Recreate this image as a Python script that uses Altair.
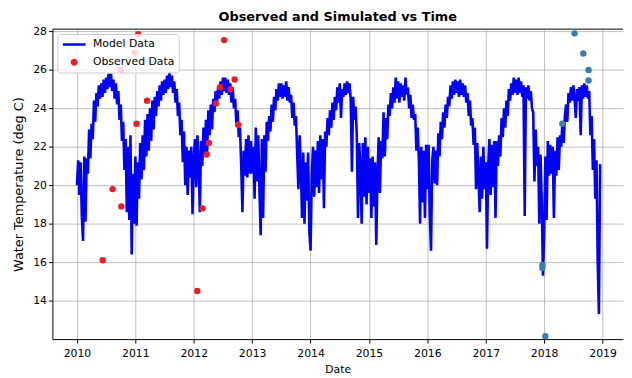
import altair as alt
import pandas as pd

# ---------------- data ----------------
# Simulated water temperature, 48 samples per year (regular ~7.6 day grid)
STEPS_PER_YEAR = 48
model_2010 = [20.0, 21.3, 19.5, 21.2, 18.4, 17.1, 21.5, 18.1, 21.4, 20.6, 22.9, 21.4,
              23.2, 22.4, 24.4, 23.3, 24.8, 24.1, 25.2, 24.5, 25.3, 24.6, 25.5, 24.8,
              25.6, 25.0, 25.8, 25.1, 25.8, 24.9, 25.5, 24.5, 25.3, 24.2, 24.9, 23.4,
              24.2, 22.3, 23.3, 20.8, 22.4, 18.6, 22.0, 18.2, 22.6, 16.4, 20.6, 18.0]
model_2011 = [21.5, 17.9, 21.2, 19.3, 22.2, 20.3, 22.6, 20.8, 23.4, 21.5, 23.7, 21.8,
              24.0, 22.3, 24.4, 22.9, 24.6, 23.6, 24.9, 24.1, 25.2, 24.4, 25.4, 24.7,
              25.5, 24.8, 25.7, 25.0, 25.9, 25.1, 25.7, 24.8, 25.4, 24.3, 25.0, 23.6,
              24.3, 22.6, 23.4, 21.2, 22.8, 20.0, 22.0, 19.5, 21.8, 20.4, 22.0, 18.5]
model_2012 = [21.3, 22.4, 19.9, 22.6, 21.2, 18.6, 22.3, 21.0, 23.0, 21.6, 23.4, 21.7,
              23.9, 22.6, 24.2, 22.9, 24.5, 23.8, 24.9, 24.2, 25.1, 24.5, 25.4, 24.7,
              25.6, 24.9, 25.6, 24.8, 25.5, 24.7, 25.3, 24.3, 25.1, 24.0, 24.5, 23.2,
              23.9, 22.5, 23.0, 21.0, 18.6, 21.8, 20.5, 22.4, 20.4, 22.6, 20.6, 22.3]
model_2013 = [20.6, 22.0, 19.3, 23.0, 20.2, 22.6, 19.7, 17.4, 22.4, 18.3, 22.6, 20.7,
              23.3, 22.3, 23.6, 22.8, 24.2, 23.3, 24.6, 23.9, 25.0, 24.4, 25.3, 24.6,
              25.3, 24.5, 25.2, 24.6, 25.4, 24.4, 25.1, 24.3, 24.7, 23.5, 24.3, 23.1,
              23.6, 21.6, 19.8, 22.6, 21.0, 18.3, 21.7, 18.0, 21.2, 19.2, 21.7, 17.6]
model_2014 = [16.6, 20.5, 22.0, 19.4, 21.8, 19.9, 22.3, 19.6, 22.6, 20.3, 22.4, 18.8,
              22.8, 22.0, 23.5, 22.6, 23.9, 23.0, 24.3, 23.4, 24.6, 23.9, 25.1, 24.3,
              25.3, 23.5, 25.0, 24.6, 25.3, 24.7, 25.4, 24.8, 25.3, 24.5, 20.7, 24.6,
              23.4, 24.1, 22.6, 18.3, 22.2, 20.8, 18.0, 22.2, 19.4, 22.5, 19.0, 22.0]
model_2015 = [19.6, 21.4, 18.3, 21.5, 18.9, 21.2, 16.9, 20.6, 22.5, 19.6, 22.3, 21.4,
              23.8, 21.5, 23.5, 22.4, 24.2, 23.6, 24.8, 24.0, 25.1, 24.3, 25.6, 24.5,
              25.4, 24.3, 25.3, 24.6, 25.2, 24.4, 25.6, 24.7, 25.1, 24.0, 24.7, 23.5,
              24.2, 23.4, 23.7, 21.8, 23.0, 21.4, 18.0, 22.0, 19.1, 21.8, 18.3, 22.1]
model_2016 = [19.8, 22.1, 18.4, 16.6, 21.3, 22.0, 20.1, 21.8, 20.0, 22.7, 21.5, 23.3,
              22.4, 23.8, 23.0, 24.2, 23.5, 24.6, 24.1, 25.2, 24.5, 25.4, 24.7, 25.5,
              24.8, 25.4, 24.6, 25.5, 24.7, 25.3, 24.6, 25.2, 24.3, 24.8, 23.6, 24.4,
              23.1, 23.5, 22.1, 23.0, 19.8, 22.2, 20.4, 18.6, 21.5, 19.3, 22.0, 19.8]
model_2017 = [21.2, 16.7, 21.0, 22.4, 19.5, 22.1, 19.9, 22.3, 18.3, 22.3, 21.0, 22.6,
              21.5, 23.5, 22.5, 24.0, 23.0, 24.4, 23.6, 25.0, 24.4, 25.3, 24.7, 25.6,
              24.8, 25.5, 24.7, 25.6, 24.8, 25.4, 24.6, 25.2, 18.4, 25.1, 24.5, 25.2,
              24.4, 24.9, 24.0, 23.8, 20.2, 22.9, 21.0, 22.0, 18.0, 21.6, 19.2, 15.3]
model_2018 = [17.5, 21.5, 18.2, 22.3, 20.5, 22.1, 20.6, 22.0, 18.3, 21.8, 20.5, 22.5,
              20.8, 22.6, 22.0, 23.3, 22.2, 23.6, 24.2, 23.3, 24.8, 24.3, 25.1, 24.4,
              25.2, 24.5, 23.5, 25.0, 24.4, 25.1, 22.6, 25.2, 24.5, 25.3, 24.6, 25.2,
              24.5, 24.9, 22.6, 23.6, 20.8, 22.4, 19.3, 21.3, 16.0, 13.3, 21.1]
model_years = [2010, 2011, 2012, 2013, 2014, 2015, 2016, 2017, 2018]
model_values = [model_2010, model_2011, model_2012, model_2013, model_2014,
                model_2015, model_2016, model_2017, model_2018]

# Observed data (red, in legend)
obs_year = [2010.44, 2010.61, 2010.76, 2010.75, 2010.99, 2011.05, 2011.02, 2011.20,
            2012.06, 2012.15, 2012.22, 2012.26, 2012.38, 2012.45, 2012.52, 2012.63,
            2012.70, 2012.76]
obs_temp = [16.1, 19.8, 18.9, 26.0, 26.9, 27.85, 23.2, 24.4,
            14.5, 18.8, 21.6, 22.2, 24.25, 25.1, 27.55, 25.0,
            25.5, 23.15]
# Extra observations (blue, not in legend)
obs2_year = [2018.52, 2018.67, 2018.76, 2018.76, 2018.31, 2017.97, 2017.97, 2018.02]
obs2_temp = [27.9, 26.85, 26.0, 25.45, 23.2, 15.85, 15.7, 12.15]

series_names = ["Model Data", "Observed Data"]
x_ticks = list(range(2010, 2020))
y_ticks = [14, 16, 18, 20, 22, 24, 26, 28]

# ---------------- tables ----------------
rows = []
for yr, vals in zip(model_years, model_values):
    for i, v in enumerate(vals):
        rows.append({"year": yr + i / STEPS_PER_YEAR, "temp": v, "series": series_names[0]})
model_df = pd.DataFrame(rows)
obs_df = pd.DataFrame({"year": obs_year, "temp": obs_temp, "series": series_names[1]})
obs2_df = pd.DataFrame({"year": obs2_year, "temp": obs2_temp})

W, H = 578, 314

x_scale = alt.Scale(domain=[2009.58, 2019.35], nice=False, zero=False)
y_scale = alt.Scale(domain=[12.0, 28.12], nice=False, zero=False)

x_axis = alt.Axis(title="Date", values=x_ticks, format="d", labelFlush=False,
                  labelPadding=5, titlePadding=5, titleFontSize=11, tickSize=4)
y_axis = alt.Axis(title="Water Temperature (deg C)", values=y_ticks,
                  labelPadding=2, titlePadding=7, titleFontSize=13, tickSize=4)

# legend symbols: a horizontal stroke for the model, a small filled dot for observations
# (custom unit-square path so both share one symbol size)
is_model = "datum.value === 'Model Data'"
dot_path = "M-0.2,0A0.2,0.2,0,1,1,0.2,0A0.2,0.2,0,1,1,-0.2,0Z"
legend = alt.Legend(
    title=None, orient="top-left", offset=5, padding=4, rowPadding=5,
    clipHeight=13, symbolOffset=0, labelOffset=6,
    fillColor="rgba(255,255,255,0.8)", strokeColor="#cccccc", cornerRadius=3,
    labelFont="DejaVu Sans", labelFontSize=11, labelColor="black",
    symbolType=alt.ExprRef(is_model + " ? 'stroke' : '" + dot_path + "'"),
    symbolSize=529,
    symbolStrokeWidth=2.6,
    symbolFillColor=alt.ExprRef("scale('color', datum.value)"),
    symbolStrokeColor=alt.ExprRef("scale('color', datum.value)"),
    symbolOpacity=1,
)
color_scale = alt.Scale(domain=series_names, range=["#0000ff", "#ee1d23"])

line = alt.Chart(model_df).mark_line(strokeWidth=2.6).encode(
    x=alt.X("year:Q", scale=x_scale, axis=x_axis),
    y=alt.Y("temp:Q", scale=y_scale, axis=y_axis),
    color=alt.Color("series:N", scale=color_scale, legend=legend),
)

pts = alt.Chart(obs_df).mark_circle(size=42, opacity=1).encode(
    x="year:Q",
    y="temp:Q",
    color=alt.Color("series:N", scale=color_scale, legend=legend),
)

pts2 = alt.Chart(obs2_df).mark_circle(size=42, opacity=1, color="#3a7db5").encode(
    x="year:Q",
    y="temp:Q",
)

top_border = alt.Chart(pd.DataFrame({"k": [0]})).mark_rule(color="black", strokeWidth=1).encode(
    x=alt.value(0), x2=alt.value(W), y=alt.value(0)
)

chart = alt.layer(line, pts, pts2, top_border).properties(
    width=W, height=H,
    title="Observed and Simulated vs Time",
    autosize=alt.AutoSizeParams(type="none"),
    padding={"left": 45, "top": 19, "right": 1, "bottom": 37},
).configure_view(stroke=None).configure_axis(
    labelFont="DejaVu Sans", labelFontSize=11, labelColor="black",
    titleFont="DejaVu Sans", titleFontWeight="normal", titleColor="black",
    gridColor="#b0b0b0", gridWidth=0.8, domainColor="black", tickColor="black",
    domainWidth=1, tickWidth=1,
).configure_title(
    font="DejaVu Sans", fontSize=13, fontWeight="bold", color="black",
    anchor="middle", offset=2,
)

chart.save("out.html", embed_options={"renderer": "svg", "actions": False})
